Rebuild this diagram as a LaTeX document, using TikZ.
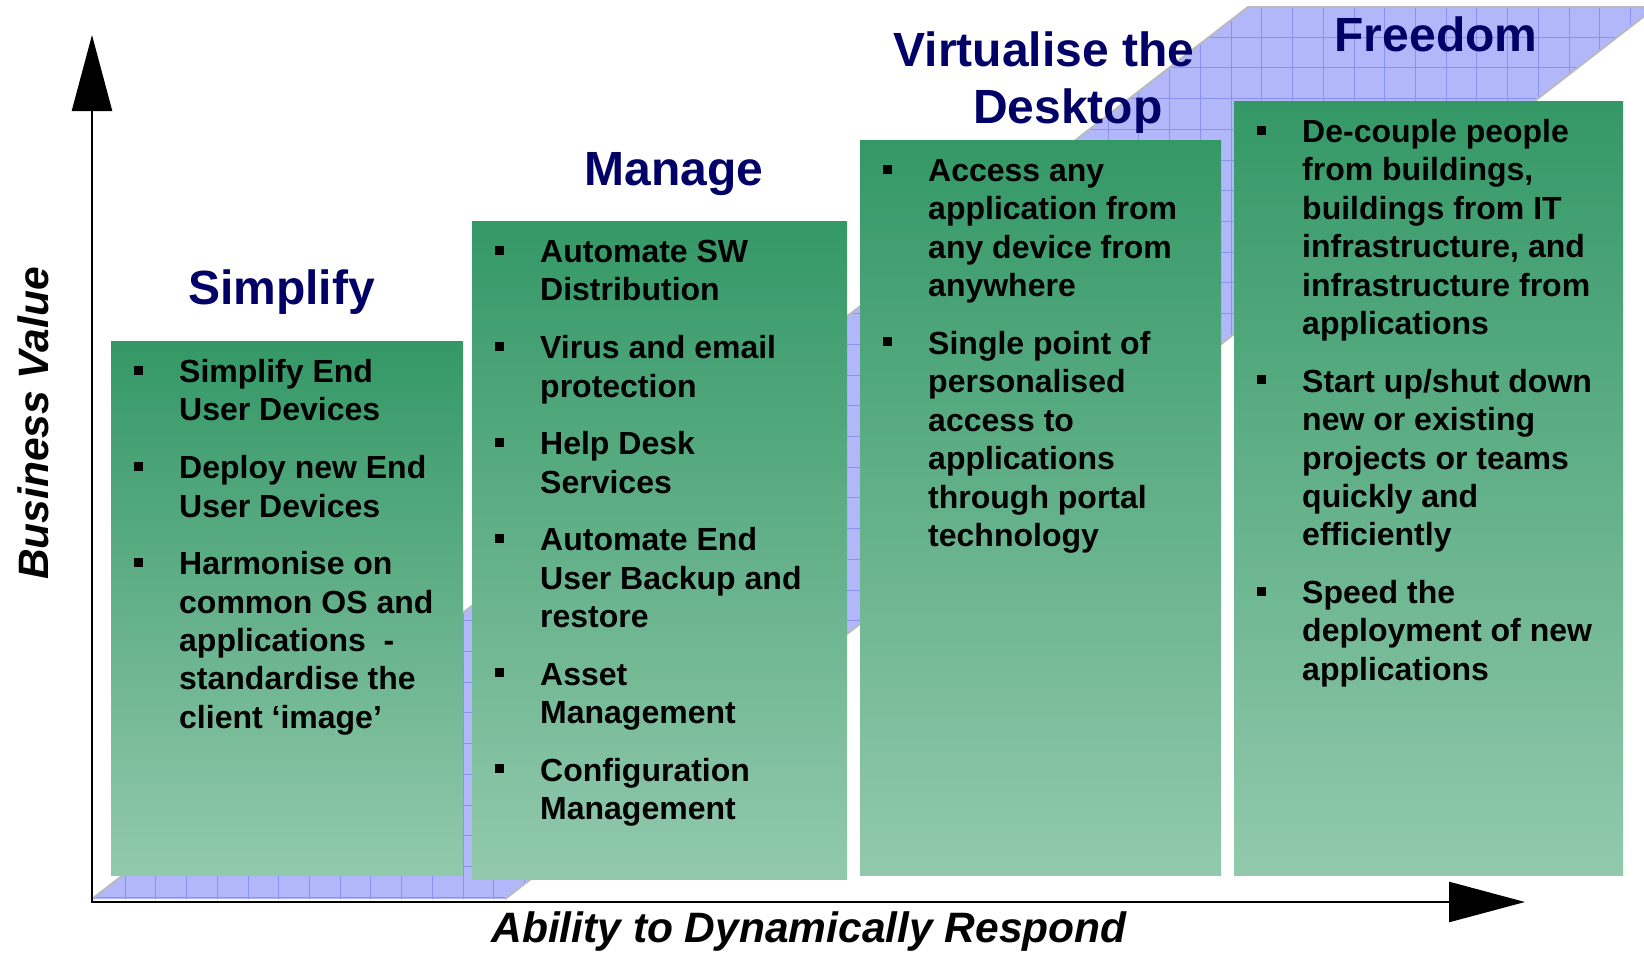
\documentclass[tikz,border=0pt]{standalone}
\usepackage{fontspec}
\setmainfont{Liberation Sans}
\usetikzlibrary{arrows.meta}

\definecolor{headnavy}{RGB}{0,0,102}
\definecolor{stagetop}{RGB}{52,152,102}
\definecolor{stagebottom}{RGB}{146,201,173}
\definecolor{bandfill}{RGB}{178,183,250}
\definecolor{bandgrid}{RGB}{138,146,240}
\definecolor{bandrim}{RGB}{185,185,195}

% square bullet hung to the left of an item
\newcommand\sqbullet{\llap{\rule[8pt]{9pt}{9pt}\hspace{36.5pt}}}

\begin{document}
\begin{tikzpicture}[x=1pt,y=-1pt,
    stage/.style={anchor=north west,inner sep=0pt,top color=stagetop,bottom color=stagebottom},
    heading/.style={anchor=base,align=center,inner sep=0pt,text=headnavy,
        font={\fontsize{48}{57.6}\selectfont\bfseries}},
    % items sit on the baseline of their last line
    point/.style={anchor=base west,align=left,inner sep=0pt,
        font={\fontsize{32}{38.4}\selectfont\bfseries}},
    axislabel/.style={anchor=base,inner sep=0pt,
        font={\fontsize{42.5}{51}\selectfont\bfseries\itshape}},
    axis/.style={line width=2.5pt,
        {Triangle[length=76pt,width=40pt]}-{Triangle[length=76pt,width=40pt]}},
    gridline/.style={draw=bandgrid,line width=0.6pt},
    bandborder/.style={draw=bandrim,line width=2pt}]
    \useasboundingbox (0,0) rectangle (1644,953);

    % rising band behind the stages
    \coordinate (bandsw) at (92,899);
    \coordinate (bandse) at (505,899);
    \coordinate (bandne) at (1656,7);
    \coordinate (bandnw) at (1248,7);
    \begin{scope}
        \clip (bandsw) -- (bandse) -- (bandne) -- (bandnw) -- cycle;
        \fill[bandfill] (0,0) rectangle (1644,953);
        \foreach \k in {-1,...,50}
            \draw[gridline] ({94.3+30.72*\k},0) -- ++(0,953);
        \foreach \k in {-1,...,29}
            \draw[gridline] (0,{897.1-30.72*\k}) -- ++(1644,0);
    \end{scope}
    \draw[bandborder] (bandsw) -- (bandnw) -- (bandne) -- (bandse);

    % the four stages
    \node[stage,minimum width=352pt,minimum height=534pt] (simplifybox) at (111,341) {};
    \node[stage,minimum width=375pt,minimum height=658pt] (managebox) at (472,221) {};
    \node[stage,minimum width=361pt,minimum height=735pt] (virtbox) at (860,140) {};
    \node[stage,minimum width=389pt,minimum height=774pt] (freebox) at (1234,101) {};

    \node[heading] (simplify) at (281.5,304) {Simplify};
    \node[heading] (manage) at (673.7,185.6) {Manage};
    \node[heading] (virtualise) at (1043.8,123.7) {Virtualise the\\\hspace*{1em}Desktop};
    \node[heading] (freedom) at (1436,51.4) {Freedom};

    \node[point] (s1) at (179,420.9) {\sqbullet Simplify End\\User Devices};
    \node[point] (s2) at (179,517.0) {\sqbullet Deploy new End\\User Devices};
    \node[point] (s3) at (179,728.3) {\sqbullet Harmonise on\\common OS and\\applications~ -\\standardise the\\client `image'};

    \node[point] (m1) at (540,300.9) {\sqbullet Automate SW\\Distribution};
    \node[point] (m2) at (540,397.0) {\sqbullet Virus and email\\protection};
    \node[point] (m3) at (540,493.1) {\sqbullet Help Desk\\Services};
    \node[point] (m4) at (540,627.6) {\sqbullet Automate End\\User Backup and\\restore};
    \node[point] (m5) at (540,723.7) {\sqbullet Asset\\Management};
    \node[point] (m6) at (540,819.8) {\sqbullet Configuration\\Management};

    \node[point] (v1) at (928,296.7) {\sqbullet Access any\\application from\\any device from\\anywhere};
    \node[point] (v2) at (928,546.4) {\sqbullet Single point of\\personalised\\access to\\applications\\through portal\\technology};

    \node[point] (f1) at (1302,334.5) {\sqbullet De-couple people\\from buildings,\\buildings from IT\\infrastructure, and\\infrastructure from\\applications};
    \node[point] (f2) at (1302,545.8) {\sqbullet Start up/shut down\\new or existing\\projects or teams\\quickly and\\efficiently};
    \node[point] (f3) at (1302,680.3) {\sqbullet Speed the\\deployment of new\\applications};

    % axes
    \coordinate (origin) at (92,902);
    \coordinate (ytip) at (92,35);
    \coordinate (xtip) at (1525,902);
    \draw[axis] (ytip) -- (origin) -- (xtip);

    \node[axislabel] (xlabel) at (809,942.6) {Ability to Dynamically Respond};
    \node[axislabel,rotate=90] (ylabel) at (48,423.6) {Business Value};
\end{tikzpicture}
\end{document}
